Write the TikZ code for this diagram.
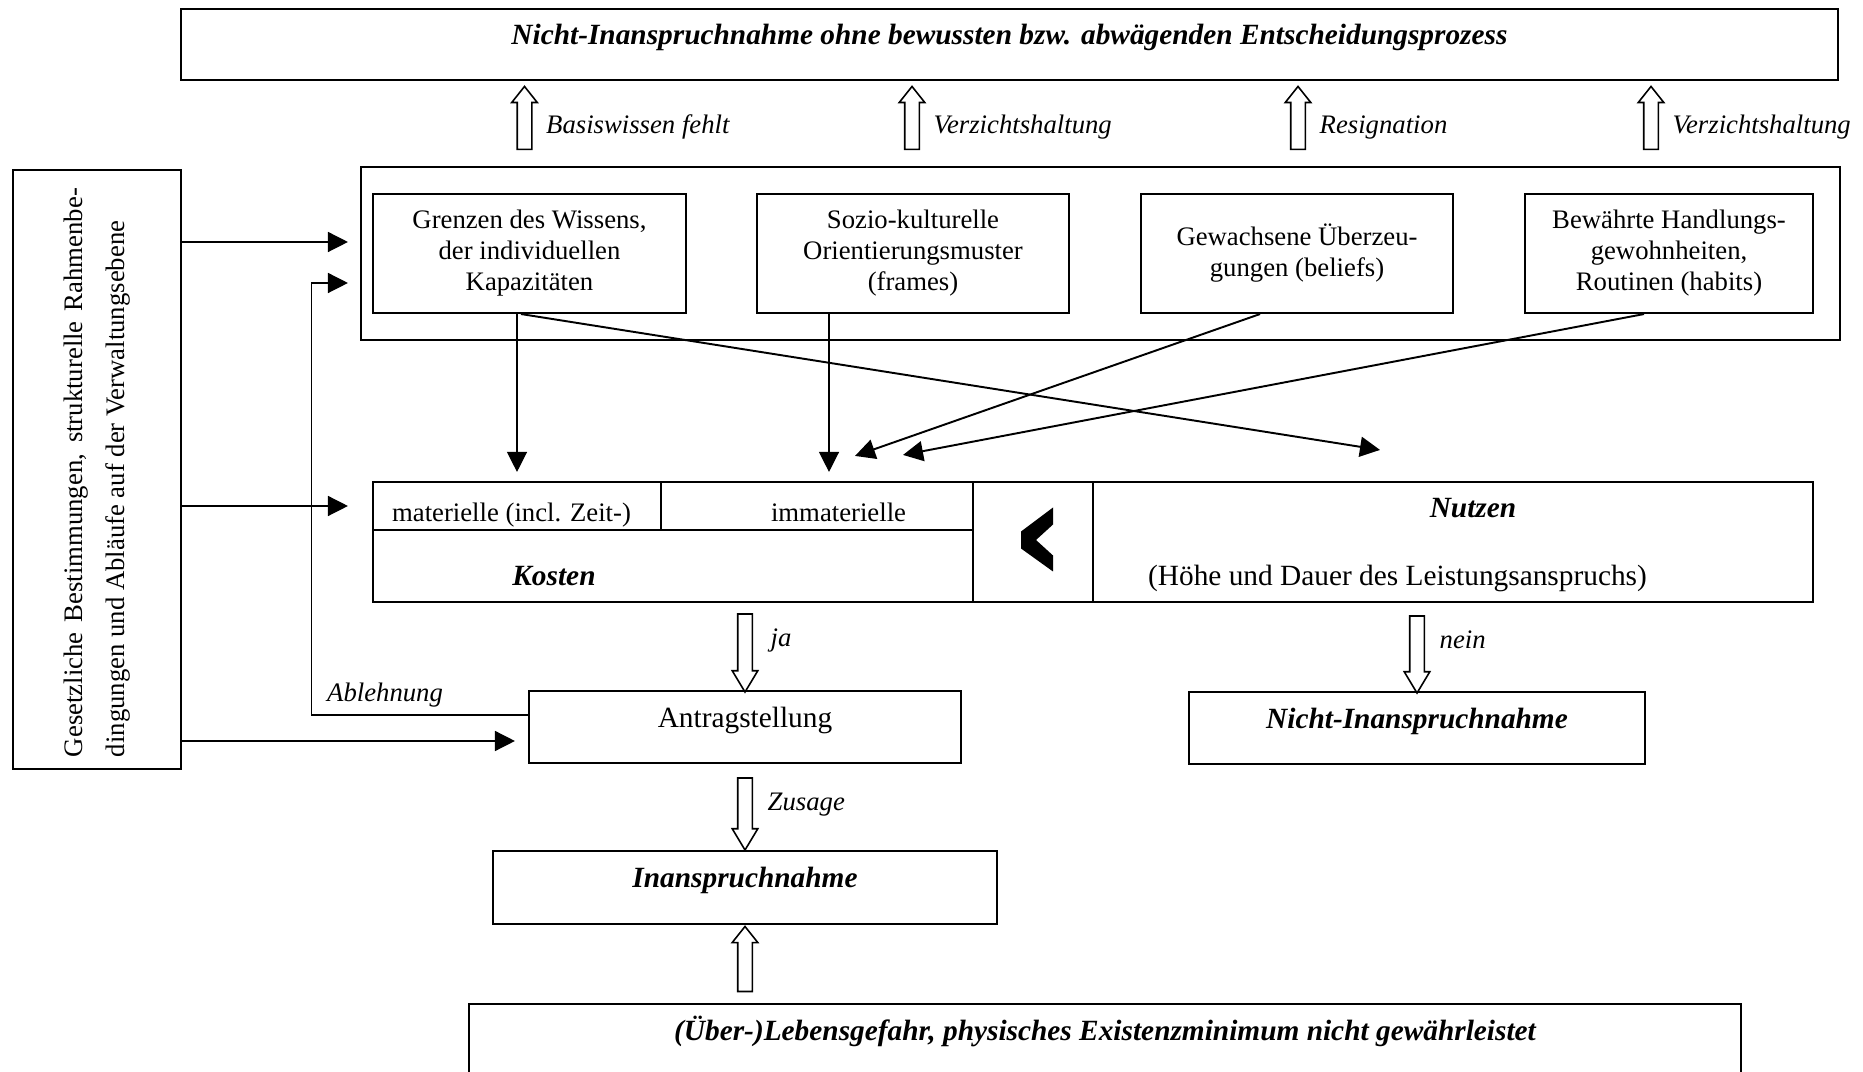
\documentclass[tikz,border=0pt]{standalone}
\usepackage{fontspec}
\setmainfont{Liberation Serif}
\usetikzlibrary{calc, arrows.meta, shapes.arrows}

\newcommand{\grossschrift}{\fontsize{8.35}{9.6}\selectfont}
\newcommand{\kleinschrift}{\fontsize{7.6}{8.8}\selectfont}

\begin{document}
\begin{tikzpicture}[
  box/.style={draw, line width=0.6pt, inner sep=0pt, align=center, font=\kleinschrift},
  mitte/.style={text height=0.2cm, text depth=0.2cm},
  fettkursiv/.style={font=\grossschrift\bfseries\itshape},
  lab/.style={font=\kleinschrift\itshape, inner sep=0pt},
  pfeil/.style={-{Triangle[length=5.7pt, width=5.7pt]}, line width=0.4pt},
  duenn/.style={line width=0.35pt},
  schraeg/.style={line width=0.55pt},
  hohl/.style={draw, single arrow, line width=0.45pt, inner sep=0.065cm,
    single arrow head extend=0.055cm, minimum width=0.24cm},
  hohlauf/.style={hohl, shape border rotate=90, single arrow tip angle=77},
  hohlab/.style={hohl, shape border rotate=270, single arrow tip angle=62}]
  \useasboundingbox (0,0) rectangle (18.63,10.71);
  \clip (0,0) rectangle (18.63,10.71);

  % oben
  \node[box, mitte, fettkursiv, minimum width=16.57cm, minimum height=0.71cm] (oben) at (10.095,10.265)
    {Nicht-Inanspruchnahme ohne bewussten bzw. abwägenden Entscheidungsprozess};

  % Hemmnisse
  \node[box, minimum width=14.79cm, minimum height=1.73cm] (hemm) at (11.005,8.175) {};
  \node[box, minimum width=3.13cm, minimum height=1.19cm] (wissen) at (5.295,8.175)
    {Grenzen des Wissens,\\der individuellen\\Kapazitäten};
  \node[box, minimum width=3.12cm, minimum height=1.19cm] (frames) at (9.13,8.175)
    {Sozio-kulturelle\\Orientierungsmuster\\(frames)};
  \node[box, minimum width=3.12cm, minimum height=1.19cm] (beliefs) at (12.97,8.175)
    {Gewachsene Überzeu-\\gungen (beliefs)};
  \node[box, minimum width=2.88cm, minimum height=1.19cm] (habits) at (16.69,8.175)
    {Bewährte Handlungs-\\gewohnheiten,\\Routinen (habits)};

  % Rahmenbedingungen
  \node[box, minimum width=1.68cm, minimum height=5.99cm] (rahmen) at (0.97,6.015) {};
  \node[rotate=90, font=\fontsize{7.6}{11.95}\selectfont, align=left, inner sep=0pt] (rahmentext)
    at ($(rahmen.center)+(0.005,-0.03)$)
    {\makebox[5.69cm][s]{Gesetzliche Bestimmungen, strukturelle Rahmenbe-}\\dingungen und Abläufe auf der Verwaltungsebene};

  % Kosten < Nutzen
  \node[box, minimum width=2.88cm, minimum height=0.48cm] (mat) at (5.17,5.65) {};
  \node[box, minimum width=3.12cm, minimum height=0.48cm] (immat) at (8.17,5.65) {};
  \node[box, minimum width=6.00cm, minimum height=0.72cm] (kosten) at (6.73,5.05) {};
  \node[box, minimum width=1.20cm, minimum height=1.20cm] (vgl) at (10.33,5.29) {};
  \node[box, minimum width=7.20cm, minimum height=1.20cm] (nutzen) at (14.53,5.29) {};
  \node[anchor=base, font=\kleinschrift] (matText) at ($(mat.south)+(-0.055,0.10)$) {materielle (incl. Zeit-)};
  \node[anchor=base, font=\kleinschrift] (immatText) at ($(immat.south)+(0.215,0.10)$) {immaterielle};
  \node[anchor=base, fettkursiv] (kostenText) at ($(kosten.south)+(-1.19,0.18)$) {Kosten};
  \node[anchor=base, fettkursiv] (nutzenText) at ($(nutzen.north)+(0.20,-0.37)$) {Nutzen};
  \node[anchor=base, font=\grossschrift] (hoeheText) at ($(nutzen.south)+(-0.555,0.18)$)
    {(Höhe und Dauer des Leistungsanspruchs)};
  \fill[shift={(vgl.center)}] (0.20,0.345) -- (-0.12,0.105) -- (-0.12,-0.065) -- (0.20,-0.295)
    -- (0.20,-0.135) -- (0.03,0.02) -- (0.20,0.175) -- cycle;

  % Antrag und Ergebnis
  \node[box, mitte, font=\grossschrift, minimum width=4.32cm, minimum height=0.72cm] (antrag) at (7.45,3.44) {Antragstellung};
  \node[box, mitte, fettkursiv, minimum width=4.56cm, minimum height=0.72cm] (nicht) at (14.17,3.43) {Nicht-Inanspruchnahme};
  \node[box, mitte, fettkursiv, minimum width=5.04cm, minimum height=0.73cm] (inan) at (7.45,1.835) {Inanspruchnahme};
  \node[box, mitte, fettkursiv, minimum width=12.72cm, minimum height=0.72cm] (gefahr) at (11.05,0.31)
    {(Über-)Lebensgefahr, physisches Existenzminimum nicht gewährleistet};

  % Blockpfeile
  \node[hohlauf, minimum height=0.63cm] (p1) at ($(wissen.north |- oben.south)+(-0.05,-0.415)$) {};
  \node[hohlauf, minimum height=0.63cm] (p2) at ($(frames.north |- oben.south)+(-0.01,-0.415)$) {};
  \node[hohlauf, minimum height=0.63cm] (p3) at ($(beliefs.north |- oben.south)+(0.01,-0.415)$) {};
  \node[hohlauf, minimum height=0.63cm] (p4) at ($(habits.north |- oben.south)+(-0.18,-0.415)$) {};
  \node[lab, anchor=base west] (l1) at ($(p1.center)+(0.21,-0.105)$) {Basiswissen fehlt};
  \node[lab, anchor=base west] (l2) at ($(p2.center)+(0.21,-0.105)$) {Verzichtshaltung};
  \node[lab, anchor=base west] (l3) at ($(p3.center)+(0.21,-0.105)$) {Resignation};
  \node[lab, anchor=base west] (l4) at ($(p4.center)+(0.21,-0.105)$) {Verzichtshaltung};
  \node[hohlab, minimum height=0.78cm] (ja) at ($(antrag.north)+(0,0.43)$) {};
  \node[lab, anchor=base west] (jaText) at ($(ja.center)+(0.25,0)$) {ja};
  \node[hohlab, minimum height=0.77cm] (nein) at ($(nicht.north)+(0,0.425)$) {};
  \node[lab, anchor=base west] (neinText) at ($(nein.center)+(0.22,0)$) {nein};
  \node[hohlab, minimum height=0.72cm] (zusage) at ($(inan.north)+(0,0.42)$) {};
  \node[lab, anchor=base west] (zusageText) at ($(zusage.center)+(0.22,-0.03)$) {Zusage};
  \node[hohlauf, minimum height=0.65cm] (p5) at ($(inan.south)+(0,-0.385)$) {};

  % Pfeile
  \coordinate (z1) at ($(hemm.west)+(-0.12,0.115)$);
  \coordinate (z2) at ($(hemm.west)+(-0.12,-0.295)$);
  \coordinate (z3) at ($(mat.west)+(-0.24,0)$);
  \coordinate (z4) at ($(antrag.west)+(-0.13,-0.14)$);
  \coordinate (knick) at ($(z2)+(-0.365,0)$);
  \draw[pfeil] (rahmen.east |- z1) -- (z1);
  \draw[pfeil] (rahmen.east |- z3) -- (z3);
  \draw[pfeil] (rahmen.east |- z4) -- (z4);
  \draw[pfeil] ([yshift=0.12cm]antrag.west) -| node[lab, pos=0.33, above=0.07cm] (abl) {Ablehnung} (knick) -- (z2);

  \coordinate (z6) at ($(immat.north)+(0.12,0.09)$);
  \coordinate (z7) at ($(immat.north)+(0.38,0.25)$);
  \coordinate (z8) at ($(immat.north)+(0.86,0.26)$);
  \coordinate (z9) at ($(nutzen.north)+(-0.73,0.31)$);
  \draw[pfeil, duenn, shorten >=0.09cm] (wissen.south -| mat.north) -- (mat.north);
  \draw[pfeil, duenn] (frames.south -| z6) -- (z6);
  \draw[pfeil, schraeg] ([xshift=-0.37cm]beliefs.south) -- (z7);
  \draw[pfeil, schraeg] ([xshift=-0.25cm]habits.south) -- (z8);
  \draw[pfeil, schraeg] ([xshift=-0.085cm]wissen.south) -- (z9);
\end{tikzpicture}
\end{document}
